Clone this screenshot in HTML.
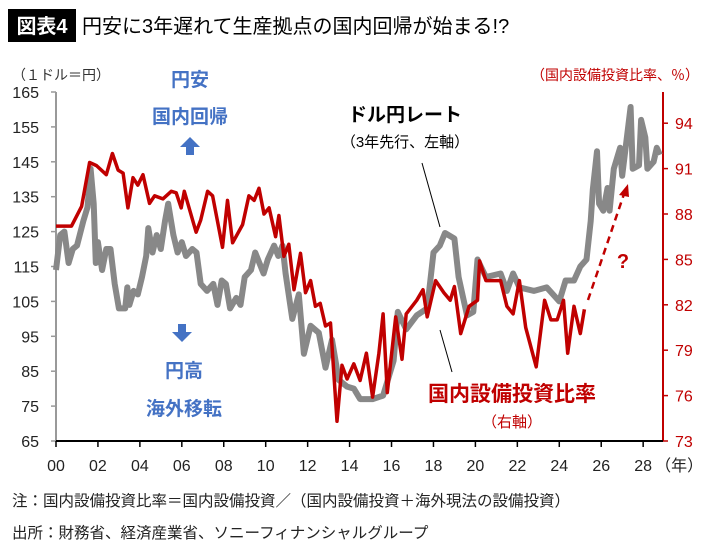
<!DOCTYPE html>
<html><head><meta charset="utf-8">
<style>
body{margin:0;background:#fff;width:710px;height:551px;overflow:hidden;font-family:"Liberation Sans","Noto Sans CJK JP",sans-serif}
svg{position:absolute;left:0;top:0}
</style></head>
<body>
<svg id="chart" width="710" height="551" viewBox="0 0 710 551" font-family="Liberation Sans, Noto Sans CJK JP, sans-serif">
<rect x="8" y="9" width="68" height="33" fill="#000"/>
<text x="42" y="33" fill="#fff" font-size="20" font-weight="bold" text-anchor="middle">図表4</text>
<text x="82" y="33" fill="#000" font-size="20">円安に3年遅れて生産拠点の国内回帰が始まる!?</text>
<text x="12" y="80" fill="#333" font-size="14">（１ドル＝円）</text>
<text x="699" y="80" fill="#c00000" font-size="14" text-anchor="end">（国内設備投資比率、％）</text>
<g id="axes"></g>
<g id="series"></g>
<text x="190" y="86" fill="#4472c4" font-size="19" font-weight="bold" text-anchor="middle">円安</text>
<text x="190" y="123" fill="#4472c4" font-size="19" font-weight="bold" text-anchor="middle">国内回帰</text>
<path d="M190,137 L200,147 L194,147 L194,155 L186,155 L186,147 L180,147 Z" fill="#4472c4"/>
<path d="M182,342 L192,332 L186,332 L186,324 L178,324 L178,332 L172,332 Z" fill="#4472c4"/>
<text x="184" y="377" fill="#4472c4" font-size="19" font-weight="bold" text-anchor="middle">円高</text>
<text x="184" y="415" fill="#4472c4" font-size="19" font-weight="bold" text-anchor="middle">海外移転</text>
<text x="405" y="121" fill="#000" font-size="19" font-weight="bold" text-anchor="middle">ドル円レート</text>
<text x="405" y="147" fill="#000" font-size="15" text-anchor="middle">（3年先行、左軸）</text>
<line x1="422" y1="163" x2="440" y2="227" stroke="#000" stroke-width="1"/>
<line x1="440" y1="330" x2="452" y2="372" stroke="#000" stroke-width="1"/>
<text x="512" y="401" fill="#c00000" font-size="21" font-weight="bold" text-anchor="middle">国内設備投資比率</text>
<text x="512" y="427" fill="#c00000" font-size="15" text-anchor="middle">（右軸）</text>
<line x1="588" y1="300" x2="624" y2="194" stroke="#c00000" stroke-width="2.5" stroke-dasharray="7,5"/>
<path d="M628,184 L619,195 L629,197 Z" fill="#c00000"/>
<text x="623" y="268" fill="#c00000" font-size="20" font-weight="bold" text-anchor="middle">?</text>
<text x="12" y="506" fill="#222" font-size="15.5">注：国内設備投資比率＝国内設備投資／（国内設備投資＋海外現法の設備投資）</text>
<text x="12" y="538" fill="#222" font-size="15.5">出所：財務省、経済産業省、ソニーフィナンシャルグループ</text>
</svg>
<script>
const leftTicks=[65,75,85,95,105,115,125,135,145,155,165];
const rightTicks=[73,76,79,82,85,88,91,94];
const xTickLabels=["00","02","04","06","08","10","12","14","16","18","20","22","24","26","28"];
const usdYears=[0,0.2,0.4,0.6,0.8,1.0,1.3,1.5,1.65,1.8,1.9,2.0,2.2,2.4,2.6,2.8,3.0,3.3,3.4,3.5,3.7,3.9,4.1,4.3,4.4,4.6,4.8,5.0,5.2,5.35,5.6,5.8,6.0,6.2,6.5,6.7,6.9,7.2,7.5,7.7,7.9,8.1,8.3,8.6,8.8,9.0,9.3,9.5,9.7,9.9,10.1,10.4,10.6,10.8,10.95,11.27,11.58,11.82,12.14,12.53,12.85,13.16,13.48,13.88,14.2,14.5,15.1,15.6,16.1,16.3,16.7,17.2,17.7,18.0,18.3,18.55,19.0,19.2,19.6,19.9,20.1,20.5,21.2,21.5,21.8,22.1,22.8,23.4,24.0,24.3,24.7,25.0,25.3,25.5,25.6,25.8,25.9,26.1,26.3,26.4,26.6,26.9,27.0,27.4,27.5,27.8,27.9,28.1,28.2,28.5,28.65,28.8];
const usdValues=[114,124,125,116,120,121,128,132,143,133,116,122,114,120,120,110,103,103,109,104,108,107,112,118,126,119,124,120,128,133,124,119,122,118,120,119,110,108,110,104,111,110,103,106,104,112,114,119,116,113,117,121,118,121,113,100,107,90,98,96,86,94,82.5,80.6,80,77,77,78,88,102,97,101,103,119,121,124.6,123,112,101,102,117,112,113,108,113,109,108,109,105,111,111,115,117,128,137,148,133,131,137.5,131,143,149,141,160.7,143,144,157,152,143,145,149,147];
const ratioYears=[0,0.74,1.22,1.6,1.93,2.4,2.69,2.96,3.2,3.43,3.67,3.9,4.15,4.46,4.7,5.1,5.5,5.73,5.97,6.12,6.68,6.9,7.23,7.47,7.94,8.18,8.42,8.9,9.2,9.45,9.68,9.92,10.16,10.47,10.63,10.87,11.1,11.35,11.66,11.9,12.14,12.37,12.6,12.85,13.09,13.4,13.64,13.88,14.2,14.5,14.8,15.1,15.4,15.6,15.8,16.2,16.5,16.7,17.2,17.5,17.7,18.1,18.5,18.8,19.0,19.3,19.7,20.1,20.2,20.5,21.2,21.5,21.8,22.1,22.4,22.9,23.3,23.6,23.9,24.2,24.4,24.7,25.0,25.2];
const ratioValues=[87.2,87.2,88.5,91.4,91.2,90.6,92.0,90.9,90.7,88.4,90.4,89.9,90.6,88.7,89.2,89.0,89.5,89.4,88.4,89.5,86.8,87.6,89.5,89.2,85.8,88.9,86.1,87.3,89.2,88.9,89.7,88.0,88.4,86.5,87.9,85.2,86.0,83.0,85.4,82.8,83.6,81.9,82.1,80.6,80.8,74.3,78.0,77.1,78.1,77.0,78.8,75.9,78.8,81.4,76.2,81.2,78.4,81.4,82.3,83.0,81.2,83.6,82.8,82.3,83.2,80.1,81.9,82.3,84.9,83.6,83.6,81.9,81.4,83.6,80.5,77.9,82.3,81.0,81.0,82.3,78.8,81.9,80.1,81.7];

const NS="http://www.w3.org/2000/svg";
const X0=56,XPY=20.97,Y0=441,YTOP=92,XEND=663;
const xs=y=>X0+y*XPY;
const yl=v=>Y0-(v-65)/(165-65)*(Y0-YTOP);
const yr=v=>Y0-(v-73)/3*45.4;
function mk(tag,attrs,parent){const e=document.createElementNS(NS,tag);for(const k in attrs)e.setAttribute(k,attrs[k]);parent.appendChild(e);return e;}
const axes=document.getElementById('axes'),series=document.getElementById('series');
let e=mk('line',{x1:X0,y1:YTOP,x2:X0,y2:Y0,stroke:'#999','stroke-width':2},axes);


e=mk('line',{x1:XEND,y1:YTOP,x2:XEND,y2:Y0,stroke:'#c00000','stroke-width':2},axes);


e=mk('line',{x1:X0,y1:Y0,x2:XEND,y2:Y0,stroke:'#000','stroke-width':2},axes);


leftTicks.forEach(v=>{
  const y=yl(v);
  let t=mk('line',{x1:X0-5,y1:y,x2:X0,y2:y,stroke:'#999','stroke-width':1.5},axes);
  
  
  t=mk('text',{x:X0-17,y:y+6,'font-size':16,fill:'#222','text-anchor':'end'},axes);t.textContent=v;
  
  
});
rightTicks.forEach(v=>{
  const y=yr(v);
  let t=mk('line',{x1:XEND,y1:y,x2:XEND+5,y2:y,stroke:'#c00000','stroke-width':1.5},axes);
  
  
  t=mk('text',{x:XEND+12,y:y+6,'font-size':16,fill:'#c00000'},axes);t.textContent=v;
  
  
});
xTickLabels.forEach((lab,i)=>{
  const x=xs(i*2);
  let t=mk('line',{x1:x,y1:Y0,x2:x,y2:Y0+6,stroke:'#000','stroke-width':1.5},axes);
  
  
  t=mk('text',{x:x,y:Y0+30,'font-size':16,fill:'#222','text-anchor':'middle'},axes);t.textContent=lab;
  
  
});
let yt=mk('text',{x:xs(28)+12,y:Y0+30,'font-size':16,fill:'#222'},axes);yt.textContent='（年）';


let p=mk('polyline',{points:usdYears.map((y,i)=>xs(y).toFixed(1)+','+yl(usdValues[i]).toFixed(1)).join(' '),fill:'none',stroke:'#888','stroke-width':6,'stroke-linejoin':'round'},series);


p=mk('polyline',{points:ratioYears.map((y,i)=>xs(y).toFixed(1)+','+yr(ratioValues[i]).toFixed(1)).join(' '),fill:'none',stroke:'#c00000','stroke-width':3.5,'stroke-linejoin':'round'},series);


</script>
</body></html>
